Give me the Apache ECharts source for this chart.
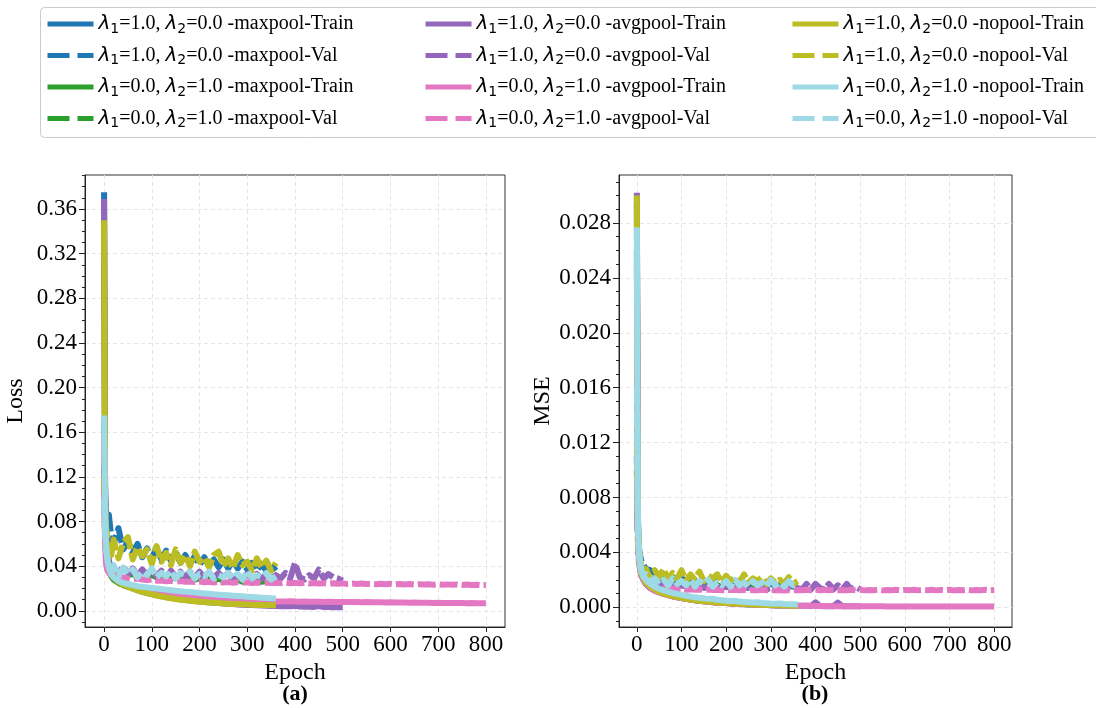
<!DOCTYPE html>
<html>
<head>
<meta charset="utf-8">
<script src="https://cdn.jsdelivr.net/npm/echarts@6/dist/echarts.min.js"></script>
<style>
html, body { margin: 0; padding: 0; background: #fff; }
#main { width: 1096px; height: 708px; }
</style>
</head>
<body>
<div id="main"></div>
<script>
// sampled epochs (x values); shorter runs use the first part of it
var epochs = [0, 2, 4, 7, 10, 15, 20, 30, 40, 50, 60, 70, 80, 90, 100, 110, 120, 130, 140, 150,
    160, 170, 180, 190, 200, 210, 220, 230, 240, 250, 260, 270, 280, 290, 300, 310, 320, 330, 340, 350,
    360, 370, 380, 390, 400, 410, 420, 430, 440, 450, 460, 470, 480, 490, 500, 510, 520, 530, 540, 550,
    560, 570, 580, 590, 600, 610, 620, 630, 640, 650, 660, 670, 680, 690, 700, 710, 720, 730, 740, 750,
    760, 770, 780, 790, 800];

var epochTicks = [0, 100, 200, 300, 400, 500, 600, 700, 800];
var lossTicks = [0, 0.04, 0.08, 0.12, 0.16, 0.2, 0.24, 0.28, 0.32, 0.36];
var mseTicks = [0, 0.004, 0.008, 0.012, 0.016, 0.02, 0.024, 0.028];

// ---- Loss (a) ----
var lossMaxL1Train = [0.375, 0.118, 0.074, 0.054, 0.045, 0.038, 0.033, 0.029, 0.026, 0.023, 0.021, 0.0192, 0.018, 0.0169, 0.016, 0.0151, 0.0143, 0.0135, 0.0128, 0.0121, 0.0114, 0.0107, 0.0101, 0.0096, 0.0091, 0.0087, 0.0083, 0.0079, 0.0075, 0.0072, 0.0069, 0.0066, 0.0063, 0.0061, 0.0059, 0.0057, 0.0055, 0.0053, 0.0051, 0.005, 0.0049];
var lossMaxL1Val = [0.13, 0.1, 0.088, 0.078, 0.086, 0.066, 0.06, 0.074, 0.055, 0.062, 0.052, 0.06, 0.048, 0.056, 0.047, 0.057, 0.046, 0.054, 0.045, 0.052, 0.043, 0.05, 0.042, 0.049, 0.041, 0.048, 0.04, 0.046, 0.039, 0.046, 0.038, 0.045, 0.038, 0.044, 0.037, 0.043, 0.036, 0.042, 0.036, 0.041, 0.036];
var lossMaxL2Train = [0.17, 0.085, 0.055, 0.042, 0.036, 0.031, 0.028, 0.025, 0.023, 0.0215, 0.0203, 0.0193, 0.0185, 0.0178, 0.0171, 0.0165, 0.0159, 0.0153, 0.0148, 0.0143, 0.0138, 0.0134, 0.013, 0.0126, 0.0122, 0.0119, 0.0116, 0.0113, 0.011, 0.0107, 0.0105, 0.0103, 0.0101, 0.0099, 0.0097, 0.0095, 0.0093, 0.0091, 0.009, 0.0089, 0.0088];
var lossMaxL2Val = [0.1, 0.068, 0.052, 0.044, 0.04, 0.037, 0.035, 0.033, 0.034, 0.032, 0.033, 0.031, 0.032, 0.03, 0.032, 0.03, 0.031, 0.029, 0.031, 0.029, 0.03, 0.028, 0.03, 0.028, 0.029, 0.028, 0.029, 0.027, 0.029, 0.027, 0.028, 0.027, 0.028, 0.026, 0.028, 0.026, 0.027, 0.026, 0.027, 0.026, 0.026];
var lossAvgL1Train = [0.369, 0.11, 0.07, 0.05, 0.042, 0.035, 0.031, 0.027, 0.024, 0.022, 0.02, 0.0185, 0.017, 0.016, 0.015, 0.014, 0.0132, 0.0124, 0.0117, 0.011, 0.0104, 0.0098, 0.0093, 0.0088, 0.0084, 0.008, 0.0076, 0.0072, 0.0069, 0.0066, 0.0063, 0.006, 0.0057, 0.0055, 0.0053, 0.0051, 0.0049, 0.0047, 0.0045, 0.0044, 0.0043, 0.0042, 0.0041, 0.004, 0.0046, 0.0038, 0.0037, 0.0036, 0.0035, 0.0042, 0.0034, 0.0034, 0.0033, 0.0033, 0.0032];
var lossAvgL1Val = [0.12, 0.08, 0.06, 0.05, 0.045, 0.04, 0.038, 0.034, 0.04, 0.033, 0.038, 0.032, 0.037, 0.032, 0.037, 0.031, 0.036, 0.031, 0.036, 0.031, 0.035, 0.03, 0.035, 0.03, 0.035, 0.03, 0.034, 0.03, 0.034, 0.03, 0.034, 0.029, 0.033, 0.029, 0.033, 0.029, 0.033, 0.029, 0.033, 0.029, 0.032,
    0.029, 0.034, 0.029, 0.043, 0.03, 0.028, 0.032, 0.029, 0.037, 0.029, 0.033, 0.03, 0.029, 0.027];
var lossAvgL2Train = [0.16, 0.06, 0.042, 0.036, 0.034, 0.032, 0.03, 0.028, 0.026, 0.024, 0.0225, 0.021, 0.0195, 0.0183, 0.0172, 0.0163, 0.0155, 0.0148, 0.0141, 0.0135, 0.013, 0.0125, 0.012, 0.0116, 0.0112, 0.0109, 0.0106, 0.0103, 0.0101, 0.0099, 0.0097, 0.0095, 0.0093, 0.0091, 0.009, 0.0089, 0.0088, 0.0087, 0.0086, 0.0085, 0.0084,
    0.0084, 0.0083, 0.0085, 0.0083, 0.0082, 0.0083, 0.0081, 0.0082, 0.0081, 0.008, 0.0081, 0.008, 0.0079, 0.008, 0.0078, 0.0079, 0.0078, 0.0077, 0.0078, 0.0076, 0.0077, 0.0076, 0.0075, 0.0076, 0.0074, 0.0075, 0.0074, 0.0073, 0.0074, 0.0072, 0.0073, 0.0072, 0.0071, 0.0072, 0.007, 0.0071, 0.007, 0.0069, 0.007, 0.0068, 0.0069, 0.0068, 0.0067, 0.0067];
var lossAvgL2Val = [0.11, 0.065, 0.048, 0.04, 0.036, 0.034, 0.032, 0.031, 0.03, 0.029, 0.0285, 0.029, 0.028, 0.0275, 0.028, 0.027, 0.0272, 0.0265, 0.027, 0.026, 0.0266, 0.026, 0.0263, 0.0258, 0.0262, 0.0256, 0.026, 0.0254, 0.0259, 0.0253, 0.0257, 0.0252, 0.0256, 0.0251, 0.0255, 0.025, 0.0254, 0.0249, 0.0253, 0.0249, 0.0252,
    0.0248, 0.0253, 0.0247, 0.0251, 0.0246, 0.025, 0.0245, 0.0249, 0.0244, 0.0248, 0.0243, 0.0247, 0.0242, 0.0246, 0.0241, 0.0245, 0.0241, 0.0244, 0.024, 0.0243, 0.0239, 0.0243, 0.0238, 0.0242, 0.0237, 0.0241, 0.0236, 0.024, 0.0236, 0.0239, 0.0235, 0.0238, 0.0234, 0.0238, 0.0233, 0.0237, 0.0233, 0.0236, 0.0232, 0.0235, 0.0231, 0.0234, 0.023, 0.0232];
var lossNoL1Train = [0.35, 0.1, 0.065, 0.048, 0.04, 0.034, 0.03, 0.026, 0.0235, 0.0215, 0.0198, 0.0183, 0.017, 0.0158, 0.0147, 0.0137, 0.0128, 0.012, 0.0113, 0.0106, 0.01, 0.0095, 0.009, 0.0086, 0.0082, 0.0078, 0.0075, 0.0072, 0.0069, 0.0066, 0.0064, 0.0062, 0.006, 0.0058, 0.0056, 0.0054, 0.0053, 0.0052, 0.0051, 0.005, 0.0049];
var lossNoL1Val = [0.12, 0.09, 0.075, 0.065, 0.062, 0.05, 0.064, 0.047, 0.061, 0.066, 0.046, 0.057, 0.049, 0.055, 0.042, 0.058, 0.044, 0.052, 0.041, 0.055, 0.043, 0.05, 0.04, 0.053, 0.044, 0.048, 0.039, 0.05, 0.053, 0.04, 0.047, 0.038, 0.05, 0.041, 0.044, 0.036, 0.047, 0.039, 0.045, 0.036, 0.043];
var lossNoL2Train = [0.175, 0.09, 0.06, 0.045, 0.038, 0.033, 0.03, 0.027, 0.025, 0.024, 0.023, 0.022, 0.0215, 0.021, 0.0205, 0.02, 0.0195, 0.019, 0.0185, 0.018, 0.0176, 0.0172, 0.0168, 0.0164, 0.016, 0.0156, 0.0152, 0.0148, 0.0145, 0.0142, 0.0139, 0.0136, 0.0133, 0.013, 0.0127, 0.0124, 0.0121, 0.0118, 0.0115, 0.0112, 0.011];
var lossNoL2Val = [0.1, 0.07, 0.055, 0.047, 0.043, 0.037, 0.041, 0.031, 0.039, 0.033, 0.037, 0.03, 0.035, 0.032, 0.038, 0.03, 0.034, 0.031, 0.036, 0.029, 0.034, 0.032, 0.035, 0.029, 0.033, 0.031, 0.035, 0.029, 0.032, 0.03, 0.034, 0.029, 0.033, 0.028, 0.036, 0.029, 0.032, 0.03, 0.034, 0.028, 0.031];

// ---- MSE (b) ----
var mseMaxL1Train = [0.0295, 0.007, 0.0042, 0.003, 0.0025, 0.0021, 0.0018, 0.0015, 0.0013, 0.00115, 0.00103, 0.00093, 0.00084, 0.00076, 0.00069, 0.00063, 0.00058, 0.00053, 0.00049, 0.00045, 0.00042, 0.00039, 0.00036, 0.00034, 0.00032, 0.0003, 0.00028, 0.00026, 0.00024, 0.00022, 0.00021, 0.0002, 0.00018, 0.00017, 0.00016, 0.00015, 0.00014, 0.00013, 0.00012, 0.00011, 0.0001];
var mseMaxL1Val = [0.011, 0.006, 0.0045, 0.0038, 0.0034, 0.0031, 0.0028, 0.0027, 0.0025, 0.0023, 0.0024, 0.0021, 0.0022, 0.002, 0.0021, 0.0019, 0.002, 0.0019, 0.002, 0.0018, 0.0019, 0.0018, 0.0019, 0.0017, 0.0018, 0.0017, 0.0018, 0.0017, 0.0018, 0.0016, 0.0017, 0.0016, 0.0017, 0.0016, 0.0017, 0.0016, 0.0016, 0.0015, 0.0016, 0.0015, 0.0016];
var mseMaxL2Train = [0.026, 0.0068, 0.0041, 0.0029, 0.0024, 0.002, 0.0017, 0.0014, 0.00125, 0.0011, 0.00099, 0.0009, 0.00082, 0.00074, 0.00068, 0.00062, 0.00057, 0.00052, 0.00048, 0.00044, 0.00041, 0.00038, 0.00035, 0.00033, 0.00031, 0.00029, 0.00027, 0.00025, 0.00023, 0.00022, 0.0002, 0.00019, 0.00018, 0.00017, 0.00016, 0.00015, 0.00014, 0.00013, 0.00012, 0.00011, 0.00011];
var mseMaxL2Val = [0.01, 0.0055, 0.004, 0.0032, 0.0028, 0.0024, 0.0022, 0.002, 0.0019, 0.0018, 0.0019, 0.0017, 0.0018, 0.0017, 0.0017, 0.0016, 0.0017, 0.0016, 0.0016, 0.0015, 0.0016, 0.0015, 0.0016, 0.0015, 0.0015, 0.0014, 0.0015, 0.0014, 0.0015, 0.0014, 0.0015, 0.0014, 0.0014, 0.0014, 0.0015, 0.0013, 0.0014, 0.0013, 0.0014, 0.0013, 0.0014];
var mseAvgL1Train = [0.0302, 0.0066, 0.004, 0.0029, 0.0024, 0.002, 0.0017, 0.0014, 0.0012, 0.00108, 0.00097, 0.00088, 0.0008, 0.00073, 0.00067, 0.00061, 0.00056, 0.00051, 0.00047, 0.00043, 0.0004, 0.00037, 0.00034, 0.00032, 0.0003, 0.00028, 0.00026, 0.00024, 0.00022, 0.00021, 0.0002, 0.00018, 0.00017, 0.00016, 0.00015, 0.00014, 0.00013, 0.00012, 0.00011, 0.00011, 0.0001,
    0.0001, 0.0001, 0.00009, 0.00036, 0.00009, 0.00008, 0.00008, 0.00008, 0.00034, 0.00008, 0.00007, 0.00007, 0.00007, 0.00007];
var mseAvgL1Val = [0.011, 0.0058, 0.0038, 0.0028, 0.0023, 0.002, 0.0018, 0.0017, 0.0016, 0.0016, 0.0017, 0.0015, 0.0016, 0.0015, 0.0016, 0.0015, 0.0015, 0.0014, 0.0016, 0.0014, 0.0015, 0.0014, 0.0015, 0.0014, 0.0015, 0.0014, 0.0014, 0.0013, 0.0015, 0.0014, 0.0014, 0.0013, 0.0015, 0.0013, 0.0014, 0.0013, 0.0014, 0.0013, 0.0014, 0.0013, 0.0014,
    0.0013, 0.0017, 0.0013, 0.0017, 0.0014, 0.0013, 0.0017, 0.0013, 0.0016, 0.0013, 0.0017, 0.0013, 0.0015, 0.0013];
var mseAvgL2Train = [0.025, 0.0065, 0.004, 0.0029, 0.0024, 0.002, 0.0017, 0.0014, 0.0012, 0.00108, 0.00097, 0.00088, 0.0008, 0.00073, 0.00067, 0.00061, 0.00056, 0.00051, 0.00047, 0.00043, 0.0004, 0.00037, 0.00034, 0.00032, 0.0003, 0.00028, 0.00026, 0.00024, 0.00022, 0.00021, 0.0002, 0.00018, 0.00017, 0.00016, 0.00015, 0.00014, 0.00013, 0.00012, 0.00011, 0.00011, 0.0001,
    0.0001, 0.0001, 0.0001, 0.00009, 0.00009, 0.00009, 0.00009, 0.00008, 0.00008, 0.00008,
    0.00008, 0.00008, 0.00007, 0.00007, 0.00007, 0.00007, 0.00007, 0.00007, 0.00007, 0.00006,
    0.00006, 0.00006, 0.00006, 0.00006, 0.00006, 0.00006, 0.00006, 0.00006, 0.00006, 0.00006,
    0.00005, 0.00005, 0.00005, 0.00005, 0.00005, 0.00005, 0.00005, 0.00005, 0.00005, 0.00005,
    0.00005, 0.00005, 0.00005, 0.00005];
var mseAvgL2Val = [0.01, 0.005, 0.0035, 0.0028, 0.0024, 0.002, 0.0018, 0.0016, 0.0015, 0.0014, 0.00138, 0.00132, 0.00136, 0.0013, 0.00133, 0.00128, 0.00131, 0.00127, 0.0013, 0.00126, 0.00129, 0.00125, 0.00128, 0.00124, 0.00127, 0.00125, 0.00128, 0.00124, 0.00127, 0.00123, 0.00126, 0.00124, 0.00127, 0.00123, 0.00126, 0.00123, 0.00126, 0.00122, 0.00125, 0.00123, 0.00126,
    0.00124, 0.00128, 0.00123, 0.00127, 0.00124, 0.00128, 0.00123, 0.00127, 0.00124, 0.00126,
    0.00123, 0.00127, 0.00124, 0.00128, 0.00123, 0.00126, 0.00124, 0.00127, 0.00123, 0.00126,
    0.00124, 0.00127, 0.00123, 0.00126, 0.00124, 0.00127, 0.00123, 0.00126, 0.00124, 0.00127,
    0.00123, 0.00126, 0.00124, 0.00127, 0.00123, 0.00126, 0.00124, 0.00127, 0.00123, 0.00126,
    0.00124, 0.00127, 0.00124, 0.00126];
var mseNoL1Train = [0.03, 0.0069, 0.0041, 0.003, 0.0025, 0.0021, 0.0018, 0.0015, 0.0013, 0.00112, 0.001, 0.0009, 0.00082, 0.00075, 0.00068, 0.00062, 0.00057, 0.00052, 0.00048, 0.00044, 0.00041, 0.00038, 0.00035, 0.00033, 0.00031, 0.00029, 0.00027, 0.00025, 0.00023, 0.00022, 0.0002, 0.00019, 0.00018, 0.00017, 0.00016, 0.00015, 0.00014, 0.00013, 0.00012, 0.00011, 0.0001];
var mseNoL1Val = [0.012, 0.0065, 0.0045, 0.0035, 0.003, 0.0025, 0.0028, 0.0021, 0.0027, 0.0022, 0.0028, 0.002, 0.0025, 0.0021, 0.0027, 0.0019, 0.0024, 0.002, 0.0026, 0.0019, 0.0023, 0.0021, 0.0024, 0.0018, 0.0023, 0.0019, 0.0022, 0.0018, 0.0024, 0.0018, 0.0021, 0.0019, 0.0022, 0.0017, 0.0021, 0.0018, 0.002, 0.0017, 0.0022, 0.0017, 0.0019];
var mseNoL2Train = [0.0277, 0.0075, 0.0046, 0.0033, 0.0027, 0.0023, 0.002, 0.0017, 0.0015, 0.00135, 0.00123, 0.00113, 0.00104, 0.00097, 0.0009, 0.00084, 0.00078, 0.00073, 0.00069, 0.00065, 0.00061, 0.00062, 0.00054, 0.00051, 0.00048, 0.00045, 0.00047, 0.00041, 0.00039, 0.00037, 0.00035, 0.00036, 0.00031, 0.00029, 0.00027, 0.00026, 0.00028, 0.00023, 0.00022, 0.00021, 0.0002];
var mseNoL2Val = [0.016, 0.0068, 0.0042, 0.0031, 0.0026, 0.0022, 0.0024, 0.0018, 0.0021, 0.0017, 0.002, 0.0016, 0.0021, 0.0017, 0.0019, 0.0016, 0.002, 0.0015, 0.0019, 0.0017, 0.002, 0.0015, 0.0018, 0.0016, 0.0019, 0.0015, 0.002, 0.0016, 0.0018, 0.0015, 0.0019, 0.0016, 0.0018, 0.0015, 0.002, 0.0016, 0.0018, 0.0015, 0.0019, 0.0016, 0.0018];

var configs = [
    { name: 'λ1=1.0, λ2=0.0 -maxpool', color: '#1f77b4', loss: [lossMaxL1Train, lossMaxL1Val], mse: [mseMaxL1Train, mseMaxL1Val] },
    { name: 'λ1=0.0, λ2=1.0 -maxpool', color: '#2ca02c', loss: [lossMaxL2Train, lossMaxL2Val], mse: [mseMaxL2Train, mseMaxL2Val] },
    { name: 'λ1=1.0, λ2=0.0 -avgpool', color: '#9467bd', loss: [lossAvgL1Train, lossAvgL1Val], mse: [mseAvgL1Train, mseAvgL1Val] },
    { name: 'λ1=0.0, λ2=1.0 -avgpool', color: '#e377c2', loss: [lossAvgL2Train, lossAvgL2Val], mse: [mseAvgL2Train, mseAvgL2Val] },
    { name: 'λ1=1.0, λ2=0.0 -nopool', color: '#bcbd22', loss: [lossNoL1Train, lossNoL1Val], mse: [mseNoL1Train, mseNoL1Val] },
    { name: 'λ1=0.0, λ2=1.0 -nopool', color: '#9edae5', loss: [lossNoL2Train, lossNoL2Val], mse: [mseNoL2Train, mseNoL2Val] }
];

var serif = 'Liberation Serif, Times New Roman, serif';
var plotDash = [18, 4];
var legendDash = [22, 8];

function pairs(vals) {
    return vals.map(function(v, i) { return [epochs[i], v]; });
}

var series = [];
var names = [];
[0, 1].forEach(function(g) {
    configs.forEach(function(cfg) {
        ['Train', 'Val'].forEach(function(kind, k) {
            var name = cfg.name + '-' + kind;
            if (g === 0) names.push(name);
            series.push({
                type: 'line',
                name: name,
                xAxisIndex: g,
                yAxisIndex: g * 2,
                data: pairs(g === 0 ? cfg.loss[k] : cfg.mse[k]),
                symbol: 'none',
                showSymbol: false,
                silent: true,
                z: 3,
                itemStyle: { color: cfg.color },
                lineStyle: { color: cfg.color, width: 6, type: k ? plotDash : 'solid', join: 'round' },
                emphasis: { disabled: true }
            });
        });
    });
});

function minorList(lo, hi, step) {
    var out = [];
    for (var k = lo; k <= hi; k++) out.push(+(k * step).toFixed(6));
    return out;
}

var gridLine = { show: true, lineStyle: { color: '#e6e6e6', type: [4, 3], width: 1 } };
var tickLabel = { fontFamily: serif, fontSize: 23, color: '#000' };

function xAxis(g) {
    return {
        type: 'value', gridIndex: g, min: -40, max: 840,
        axisLine: { show: true, onZero: false, lineStyle: { color: '#222' } },
        axisTick: { show: true, customValues: epochTicks, length: 5, lineStyle: { color: '#222' } },
        axisLabel: Object.assign({ customValues: epochTicks, margin: 6 }, tickLabel),
        splitLine: gridLine,
        name: 'Epoch', nameLocation: 'middle', nameGap: 31,
        nameTextStyle: { fontFamily: serif, fontSize: 24, color: '#000' }
    };
}

function yAxis(g, min, max, ticks, digits, name, gap) {
    return {
        type: 'value', gridIndex: g, position: 'left', min: min, max: max,
        axisLine: { show: true, onZero: false, lineStyle: { color: '#222' } },
        axisTick: { show: true, customValues: ticks, length: 6, lineStyle: { color: '#222' } },
        axisLabel: Object.assign({
            customValues: ticks, margin: 8,
            formatter: function(v) { return (+v).toFixed(digits); }
        }, tickLabel),
        splitLine: gridLine,
        name: name, nameLocation: 'middle', nameGap: gap,
        nameTextStyle: { fontFamily: serif, fontSize: 24, color: '#000' }
    };
}

function minorAxis(g, min, max, ticks) {
    return {
        type: 'value', gridIndex: g, position: 'left', min: min, max: max,
        axisLine: { show: false, onZero: false },
        axisTick: { show: true, customValues: ticks, length: 3, lineStyle: { color: '#222' } },
        axisLabel: { show: false },
        splitLine: { show: false }
    };
}

var legendLeft = [45, 423, 790];
var legends = legendLeft.map(function(left, c) {
    return {
        orient: 'vertical', left: left, top: 12, padding: 0,
        itemWidth: 46, itemHeight: 24, itemGap: 7.5,
        selectedMode: false,
        data: names.slice(c * 4, c * 4 + 4).map(function(n) {
            return { name: n, lineStyle: { type: /Val$/.test(n) ? legendDash : 'solid' } };
        }),
        lineStyle: { width: 5 },
        itemStyle: { opacity: 0 },
        formatter: function(n) { return n.replace(/λ(\d)/g, '{l|λ}{s|$1}'); },
        textStyle: {
            fontFamily: serif, fontSize: 20, color: '#000', lineHeight: 24,
            rich: {
                l: { fontFamily: 'DejaVu Sans', fontStyle: 'italic', fontSize: 20, lineHeight: 24, color: '#000' },
                s: { fontFamily: 'DejaVu Sans', fontSize: 14, lineHeight: 13, verticalAlign: 'bottom', color: '#000' }
            }
        }
    };
});

var chart = echarts.init(document.getElementById('main'), null, { renderer: 'canvas' });
chart.setOption({
    animation: false,
    backgroundColor: '#fff',
    graphic: [
        { type: 'rect', z: 0, shape: { x: 40.5, y: 7.5, width: 1080, height: 130, r: 4 }, style: { fill: '#fff', stroke: '#cccccc', lineWidth: 1 } },
        { type: 'text', x: 295, y: 683, style: { text: '(a)', font: 'bold 22px ' + serif, fill: '#000', textAlign: 'center' } },
        { type: 'text', x: 815, y: 683, style: { text: '(b)', font: 'bold 22px ' + serif, fill: '#000', textAlign: 'center' } }
    ],
    legend: legends,
    grid: [
        { left: 85, top: 175, width: 420, height: 452, show: true, borderColor: '#333', borderWidth: 1, backgroundColor: 'transparent' },
        { left: 619, top: 175, width: 393, height: 452, show: true, borderColor: '#333', borderWidth: 1, backgroundColor: 'transparent' }
    ],
    xAxis: [xAxis(0), xAxis(1)],
    yAxis: [
        yAxis(0, -0.0145, 0.3905, lossTicks, 2, 'Loss', 57),
        minorAxis(0, -0.0145, 0.3905, minorList(-1, 39, 0.01)),
        yAxis(1, -0.00144, 0.0315, mseTicks, 3, 'MSE', 64),
        minorAxis(1, -0.00144, 0.0315, minorList(-1, 31, 0.001))
    ],
    series: series
});
</script>
</body>
</html>
